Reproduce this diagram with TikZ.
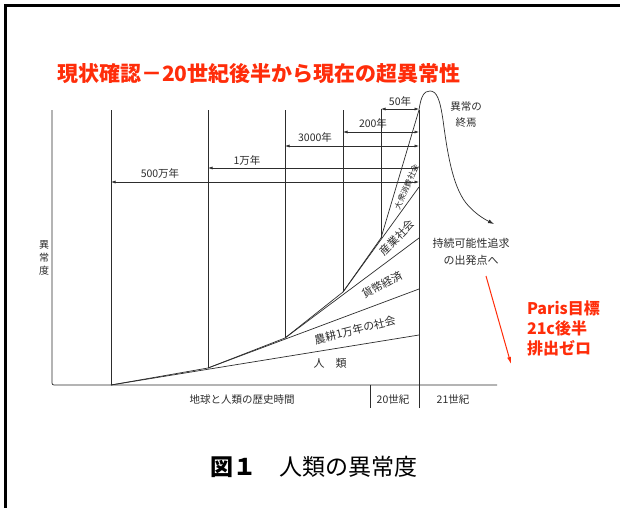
\documentclass[tikz,border=0pt]{standalone}
\usepackage{fontspec}
\setmainfont{Noto Sans CJK JP}
\usetikzlibrary{arrows.meta}
\definecolor{ink}{RGB}{45,45,45}
\definecolor{hot}{RGB}{255,45,10}
\begin{document}
\begin{tikzpicture}[x=1pt,y=-1pt,
  every node/.style={inner sep=0pt, outer sep=0pt, text=ink},
  ln/.style={draw=ink, line width=0.7pt},
  spanarrow/.style={draw=ink, line width=0.6pt, {Latex[length=4.5pt,width=3pt]}-{Latex[length=4.5pt,width=3pt]}},
  lbl/.style={font=\fontsize{10.5}{12}\selectfont},
  era/.style={font=\fontsize{11}{13}\selectfont},
  redtxt/.style={text=hot, anchor=base west, font=\fontsize{16}{20}\selectfont\bfseries}]
\useasboundingbox (0,0) rectangle (620,508);
\fill[white] (0,0) rectangle (620,508);
% frame
\draw[line width=3pt] (620,5.5) -- (5,5.5) -- (5,508);
% title
\node[anchor=west, text=hot, font=\fontsize{21}{24}\selectfont\bfseries] (title) at (57,74) {現状確認－20世紀後半から現在の超異常性};
% axes
\coordinate (o) at (52,385);
\coordinate (ytop) at (52,110);
\coordinate (xend) at (497,385);
\draw[ln, rounded corners=2pt] (ytop) -- (o) -- (xend);
% knots of the envelope
\coordinate (k1) at (111,385);
\coordinate (k2) at (208,368);
\coordinate (k3) at (285,338);
\coordinate (k4) at (343,292);
\coordinate (k5) at (381,238);
\coordinate (k6) at (419,110);
\coordinate (w1) at (419,335);
\coordinate (w2) at (419,289);
\coordinate (w3) at (419,238);
\coordinate (w4) at (419,187);
\coordinate (t1) at (111,110);
\coordinate (t2) at (208,110);
\coordinate (t3) at (285,110);
\coordinate (t4) at (343,110);
\coordinate (t5) at (381,109);
\coordinate (b21) at (419,408);
\coordinate (b20t) at (370,385);
\coordinate (b20) at (370,408);
\draw[ln] (k1) -- (k2) -- (k3) -- (k4) -- (k5) -- (k6);
\draw[ln] (k1) -- (w1);
\draw[ln] (k2) -- (w2);
\draw[ln] (k3) -- (w3);
\draw[ln] (k4) -- (w4);
\draw[ln] (k1) -- (t1);
\draw[ln] (k2) -- (t2);
\draw[ln] (k3) -- (t3);
\draw[ln] (k4) -- (t4);
\draw[ln] (k5) -- (t5);
\draw[ln] (b21) -- (k6);
\draw[ln] (b20t) -- (b20);
% time spans
\coordinate (s50a) at (381,109);  \coordinate (s50b) at (419,109);
\coordinate (s200a) at (343,132); \coordinate (s200b) at (419,132);
\coordinate (s3ka) at (285,146);  \coordinate (s3kb) at (419,146);
\coordinate (s1ma) at (208,168);  \coordinate (s1mb) at (419,168);
\coordinate (s5ma) at (111,182);  \coordinate (s5mb) at (419,182);
\draw[spanarrow] (s50a) -- (s50b);
\draw[spanarrow] (s200a) -- (s200b);
\draw[spanarrow] (s3ka) -- (s3kb);
\draw[spanarrow] (s1ma) -- (s1mb);
\draw[spanarrow] (s5ma) -- (s5mb);
\node[lbl] (l50) at (400,101) {50年};
\node[lbl] (l200) at (373,123) {200年};
\node[lbl] (l3k) at (315,137) {3000年};
\node[lbl] (l1m) at (247,160) {1万年};
\node[lbl] (l5m) at (160,173) {500万年};
% peak curve
\coordinate (cend) at (494,224);
\draw[ln, -{Latex[length=6pt,width=4pt]}] (k6) .. controls (421,96) and (424,91) .. (430,91) .. controls (437,91) and (440,100) .. (443,120) .. controls (447,150) and (452,185) .. (466,203) .. controls (474,213) and (484,219) .. (cend);
\node[align=center, font=\fontsize{10.5}{16}\selectfont] (endlbl) at (466,115) {異常の\\終焉};
\node[align=center, font=\fontsize{11}{17}\selectfont] (sust) at (471,251.5) {持続可能性追求\\の出発点へ};
% band labels
\node[era] (humans) at (330,363) {人　類};
\node[era, rotate=14] (agri) at (355,330) {農耕1万年の社会};
\node[era, rotate=28] (money) at (382,285) {貨幣経済};
\node[era, rotate=46] (indus) at (397,238) {産業社会};
\node[font=\fontsize{8}{10}\selectfont, rotate=66] (mass) at (406.5,187) {大衆消費社会};
% axis labels
\node[align=center, font=\fontsize{10}{13}\selectfont] (ylab) at (44,258) {異\\常\\度};
\node[lbl] (hist) at (242,400) {地球と人類の歴史時間};
\node[lbl] (c20) at (393,400) {20世紀};
\node[lbl] (c21) at (453,400) {21世紀};
% red note
\coordinate (ra) at (486,276);
\coordinate (rb) at (511,364);
\draw[hot, line width=1pt, -{Latex[length=7pt,width=4pt]}] (ra) -- (rb);
\node[redtxt] (p1) at (527,314) {Paris目標};
\node[redtxt] (p2) at (527,334) {21c後半};
\node[redtxt] (p3) at (527,354) {排出ゼロ};
% caption
\node[text=black, font=\fontsize{23}{26}\selectfont] (cap) at (314,467) {{\bfseries 図１}　人類の異常度};
\end{tikzpicture}
\end{document}
